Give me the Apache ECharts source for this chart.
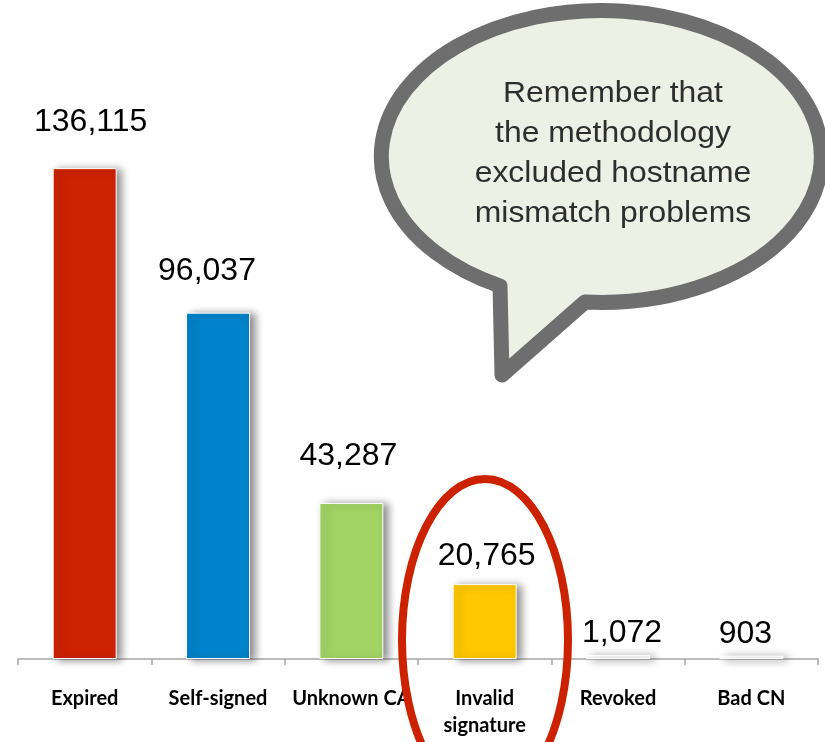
<!DOCTYPE html>
<html>
<head>
<meta charset="utf-8">
<script src="https://cdn.jsdelivr.net/npm/echarts@6/dist/echarts.min.js"></script>
<style>
  html, body { margin: 0; padding: 0; background: #fff; }
  #chart { width: 825px; height: 742px; }
</style>
</head>
<body>
<div id="chart"></div>
<script>
// chart data
var categories = ['Expired', 'Self-signed', 'Unknown CA', 'Invalid\nsignature', 'Revoked', 'Bad CN'];
var counts = [136115, 96037, 43287, 20765, 1072, 903];
var barColors = ['#CC2200', '#0083CB', '#A2D465', '#FFC800', '#FFFFFF', '#FFFFFF'];
var noteLines = ['Remember that', 'the methodology', 'excluded hostname', 'mismatch problems'];

// label tweaks (px), kept apart from the data
var labelGap = [30, 25, 31, 12, 6, 6];
var labelShiftX = [6, -11, -3, 2, 4, -6];

var chart = echarts.init(document.getElementById('chart'), null, { renderer: 'canvas' });

var barData = counts.map(function (v, i) {
    return {
        value: v,
        itemStyle: { color: barColors[i] },
        label: { distance: labelGap[i], offset: [labelShiftX[i], 0] }
    };
});

chart.setOption({
    animation: false,
    textStyle: { fontFamily: 'Liberation Sans' },
    grid: { left: 18, right: 7, top: 82, bottom: 83 },
    xAxis: {
        type: 'category',
        data: categories,
        axisLine: { lineStyle: { color: '#A6A6A6', width: 1.5 } },
        axisTick: { show: true, alignWithLabel: false, interval: 0, length: 6, lineStyle: { color: '#A6A6A6', width: 1.5 } },
        axisLabel: {
            interval: 0,
            margin: 26,
            color: '#000',
            fontFamily: 'Lato',
            fontWeight: 'bold',
            fontSize: 20,
            lineHeight: 27
        }
    },
    yAxis: {
        type: 'value',
        min: 0,
        max: 160000,
        show: false,
        splitLine: { show: false }
    },
    series: [{
        type: 'bar',
        data: barData,
        barWidth: 64,
        itemStyle: {
            borderColor: '#fff',
            borderWidth: 1,
            shadowColor: 'rgba(0,0,0,0.45)',
            shadowBlur: 8,
            shadowOffsetX: 5,
            shadowOffsetY: 1
        },
        label: {
            show: true,
            position: 'top',
            color: '#000',
            fontSize: 32,
            fontFamily: 'Liberation Sans',
            formatter: function (p) { return p.value.toLocaleString('en-US'); }
        }
    }, {
        // speech bubble outline
        type: 'custom',
        coordinateSystem: 'none',
        z: 10,
        silent: true,
        data: [0],
        renderItem: function () {
            return {
                type: 'path',
                shape: { pathData: 'M 500 286 A 220 146 0 1 1 585 302 L 502 375 Z' },
                style: { fill: '#EDF0E4', stroke: '#6E6E6E', lineWidth: 15, lineJoin: 'round' }
            };
        }
    }],
    graphic: [
        {
            type: 'text',
            z: 11,
            x: 613,
            y: 74,
            scaleX: 1.1,
            style: {
                text: noteLines.join('\n'),
                font: '29px "Liberation Sans"',
                fill: '#2e2e2e',
                textAlign: 'center',
                textVerticalAlign: 'top',
                lineHeight: 40
            }
        },
        {
            // red highlight ring
            type: 'ellipse',
            z: 12,
            shape: { cx: 485, cy: 640, rx: 83, ry: 161 },
            style: { fill: 'none', stroke: '#CC2200', lineWidth: 8 }
        }
    ]
});
</script>
</body>
</html>
